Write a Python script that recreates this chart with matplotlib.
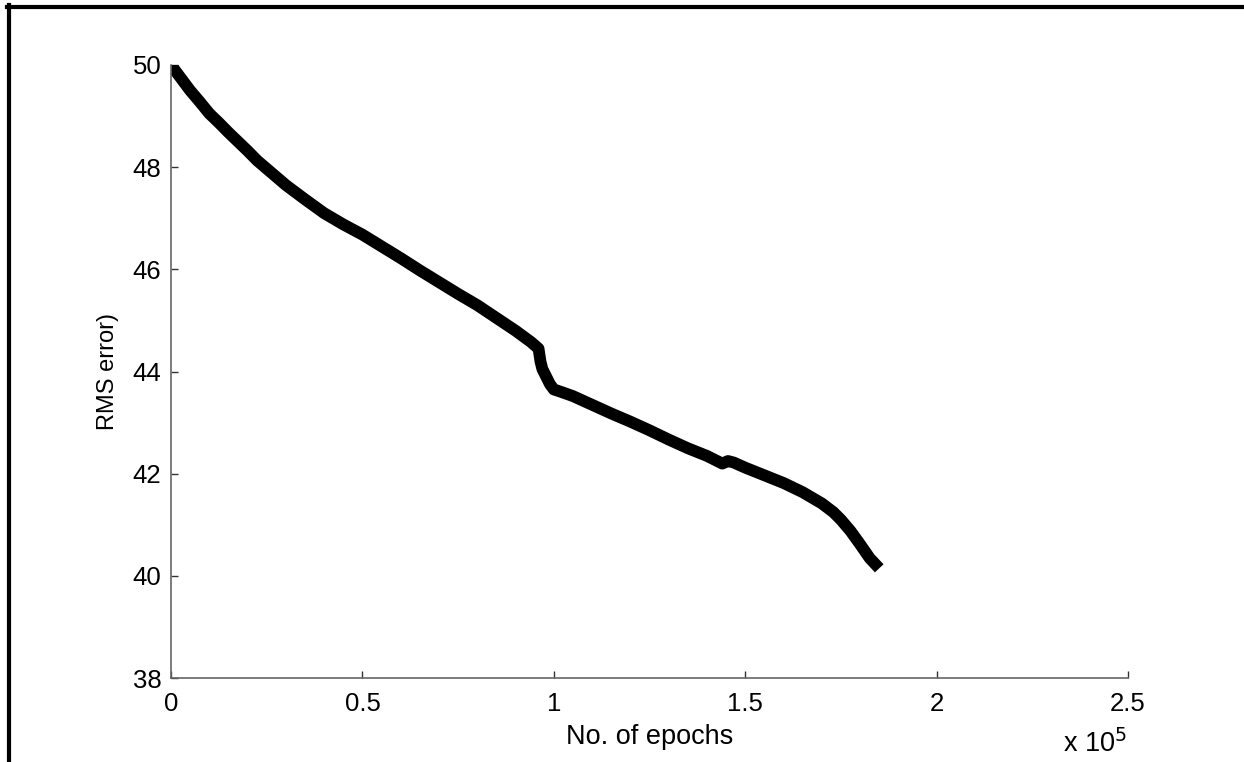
import matplotlib
matplotlib.use("Agg")
import matplotlib.pyplot as plt
from matplotlib.lines import Line2D
from matplotlib.ticker import FuncFormatter

plt.rcParams["font.family"] = ["Liberation Sans", "DejaVu Sans"]

# RMS error vs. training epochs
epochs = [0, 2500, 5000, 7500, 10000, 12500, 15000, 17500, 20000, 22500,
          25000, 30000, 35000, 40000, 45000, 50000, 55000, 60000, 65000,
          70000, 75000, 80000, 85000, 90000, 94000, 96000, 96500, 97000,
          98000, 99000, 100000, 102000, 105000, 110000, 115000, 120000,
          125000, 130000, 135000, 140000, 144000, 145500, 147000, 150000,
          155000, 160000, 165000, 170000, 173000, 175000, 177500, 180000,
          182500, 185000]
rms_error = [50.0, 49.75, 49.5, 49.28, 49.05, 48.87, 48.68, 48.5, 48.32, 48.13,
             47.97, 47.65, 47.37, 47.1, 46.88, 46.68, 46.45, 46.22, 45.98,
             45.75, 45.52, 45.3, 45.05, 44.8, 44.58, 44.45, 44.2, 44.05,
             43.9, 43.75, 43.65, 43.6, 43.52, 43.35, 43.18, 43.02,
             42.85, 42.67, 42.5, 42.35, 42.2, 42.25, 42.22, 42.12,
             41.97, 41.82, 41.64, 41.42, 41.25, 41.1, 40.88, 40.62,
             40.35, 40.15]

x_ticks = [0, 50000, 100000, 150000, 200000, 250000]
y_ticks = [38, 40, 42, 44, 46, 48, 50]

fig = plt.figure(figsize=(12.44, 7.62), dpi=100)
ax = fig.add_axes([0.1375, 0.110, 0.7693, 0.8047])

ax.plot(epochs, rms_error, color="black", linewidth=8.5, solid_capstyle="butt",
        solid_joinstyle="round")

ax.set_xlim(0, 250000)
ax.set_ylim(38, 50)
ax.set_xticks(x_ticks)
ax.set_yticks(y_ticks)
ax.xaxis.set_major_formatter(FuncFormatter(lambda v, p: f"{v / 1e5:g}"))

for side in ("top", "right"):
    ax.spines[side].set_visible(False)
for side in ("left", "bottom"):
    ax.spines[side].set_color("#666666")
    ax.spines[side].set_linewidth(1.2)

ax.tick_params(axis="both", direction="in", length=5, width=1,
               color="#333333", labelsize=18.5)
ax.tick_params(axis="x", pad=10)
ax.tick_params(axis="y", pad=7)

ax.set_xlabel("No. of epochs", fontsize=19.5, labelpad=6)
ax.set_ylabel("RMS error)", fontsize=17, labelpad=10)

fig.text(1127 / 1244, 1 - 752 / 762, r"x 10$^5$", fontsize=19.5,
         ha="right", va="baseline")

# thick frame on top and left edge
fig.add_artist(Line2D([8.5 / 1244, 8.5 / 1244], [0, 1 - 5 / 762],
                      transform=fig.transFigure, color="black", linewidth=3))
fig.add_artist(Line2D([7 / 1244, 1], [1 - 6.5 / 762, 1 - 6.5 / 762],
                      transform=fig.transFigure, color="black", linewidth=3))

fig.savefig("out.png", dpi=100)
